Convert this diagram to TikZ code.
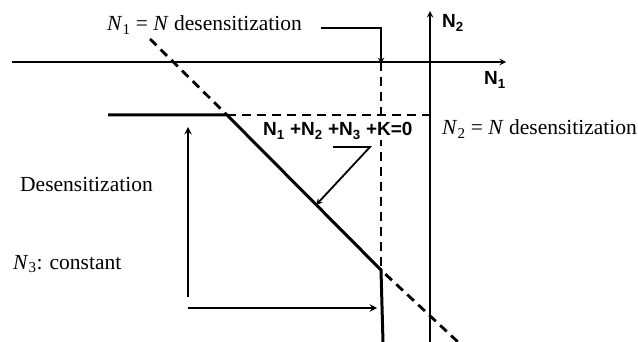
\documentclass[tikz,border=0pt]{standalone}
\usepackage{fontspec}
\setmainfont{Liberation Serif}
\newfontfamily\labelsans{Liberation Sans}
\usetikzlibrary{arrows}

\begin{document}
\begin{tikzpicture}[x=1pt, y=-1pt, >=stealth,
    axis/.style={line width=1.8pt},
    curve/.style={line width=3pt},
    guide/.style={line width=2.8pt, dash pattern=on 9pt off 6pt},
    pointer/.style={line width=1.8pt},
    serif/.style={inner sep=0pt, font=\fontsize{21.5}{25}\selectfont},
    sanslabel/.style={inner sep=0pt, font=\labelsans\bfseries\fontsize{19}{22}\selectfont}]
  \useasboundingbox (0,0) rectangle (638,342);

  % Axes
  \coordinate (xa) at (12,62);
  \coordinate (xb) at (506,62);
  \coordinate (ya) at (430,342);
  \coordinate (yb) at (430,11);
  \draw[->, axis] (xa) -- (xb);
  \draw[->, axis] (ya) -- (yb);
  \node[sanslabel, anchor=west] (n2) at (442,23) {N\textsubscript{2}};
  \node[sanslabel, anchor=west] (n1) at (484,80) {N\textsubscript{1}};

  % Curve N1+N2+N3+K=0
  \coordinate (p0) at (108,115);
  \coordinate (p1) at (227,115);
  \coordinate (p2) at (381,270);
  \coordinate (p3) at (383,342);
  \draw[curve] (p0) -- (p1) -- (p2) -- (p3);

  % Dashed continuation of the slope
  \coordinate (d0) at (150,39);
  \coordinate (d1) at (458,342);
  \draw[guide] (d0) -- (p1);
  \draw[guide, dash phase=9pt] (p2) -- (d1);

  % Dashed limits
  \coordinate (g0) at (381,62);
  \draw[guide] (p1) -- (p1 -| ya);
  \draw[guide] (g0) -- (p2);

  % Labels of the limits
  \node[serif, anchor=west] (lim1) at (107,25) {\textit{N}\textsubscript{1} = \textit{N} desensitization};
  \node[serif, anchor=west] (lim2) at (442,129) {\textit{N}\textsubscript{2} = \textit{N} desensitization};
  \coordinate (k0) at (321,28);
  \draw[->, pointer] (k0) -| ([yshift=-2pt]g0);

  % Equation and its pointer
  \node[sanslabel, anchor=west, fill=white, inner sep=1pt] (eq) at (262,131) {N\textsubscript{1} +N\textsubscript{2} +N\textsubscript{3} +K=0};
  \coordinate (q0) at (333,147);
  \coordinate (q1) at (370,147);
  \coordinate (q2) at (316,205);
  \draw[->, pointer] (q0) -- (q1) -- (q2);

  % Desensitization at constant N3
  \node[serif, anchor=west] (des) at (20,184) {Desensitization};
  \node[serif, anchor=west] (cst) at (13,264) {\textit{N}\textsubscript{3}: constant};
  \coordinate (r0) at (188,297);
  \coordinate (r1) at (188,127);
  \coordinate (s0) at (188,308);
  \coordinate (s1) at (377,308);
  \draw[->, pointer, line width=2.2pt] (r0) -- (r1);
  \draw[->, pointer, line width=2.2pt] (s0) -- (s1);
\end{tikzpicture}
\end{document}
